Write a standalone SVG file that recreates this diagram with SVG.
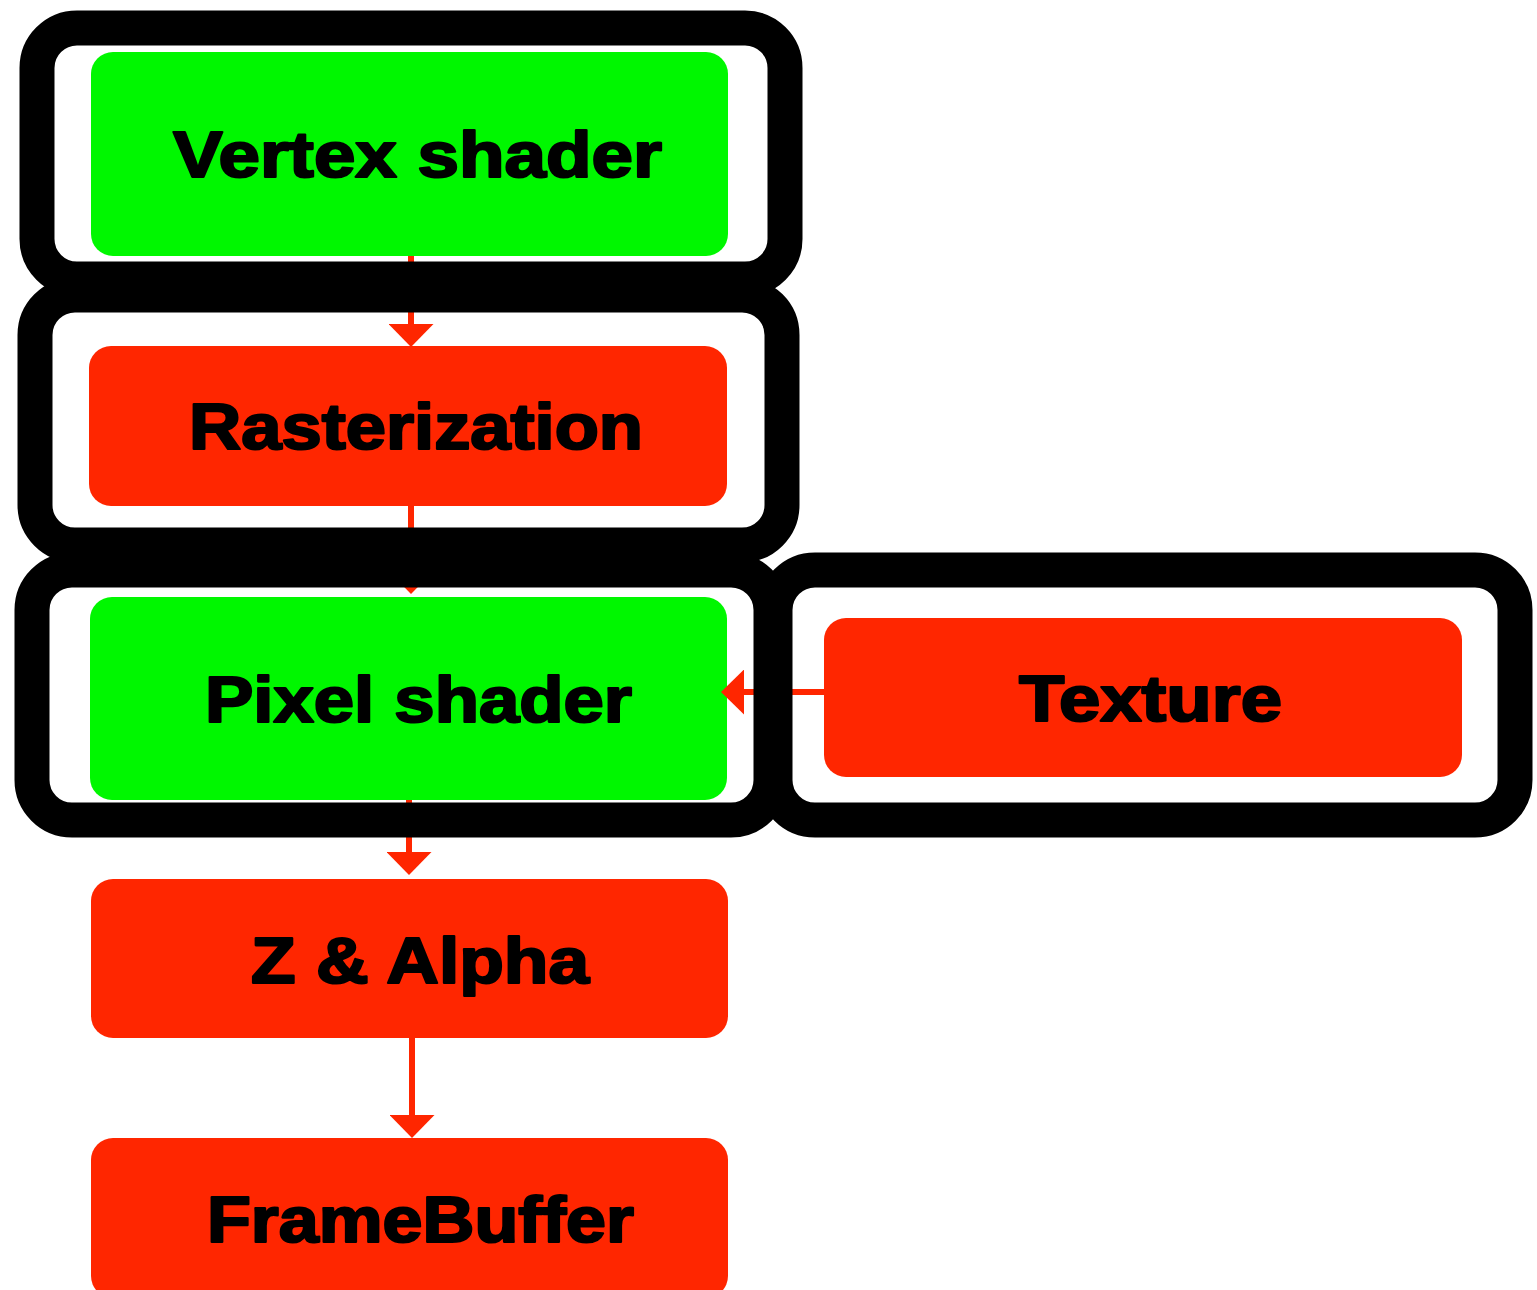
<svg xmlns="http://www.w3.org/2000/svg" width="1537" height="1290" viewBox="0 0 1537 1290">
  <defs>
    <style>
      .box { stroke: none; }
      .green { fill: #00f700; }
      .red { fill: #ff2600; }
      .label { font-family: "Liberation Sans", Arial, sans-serif; font-weight: bold; font-size: 64px; fill: #000; stroke: #000; stroke-width: 2.2; stroke-linejoin: round; text-anchor: start; }
      .link { stroke: #ff2600; stroke-width: 6; fill: none; }
      .frame { fill: none; stroke: #000; stroke-width: 35; }
    </style>
    <marker id="head" viewBox="0 0 23 45" refX="0" refY="22.5" markerWidth="23" markerHeight="45" markerUnits="userSpaceOnUse" orient="auto">
      <path d="M0,0 L23,22.5 L0,45 Z" fill="#ff2600"/>
    </marker>
  </defs>

  <rect width="1537" height="1290" fill="#fff"/>

  <!-- pipeline stages -->
  <g id="vertex-shader">
    <rect class="box green" x="91" y="52" width="637" height="204" rx="22"/>
    <text class="label" x="173" y="177" textLength="489" lengthAdjust="spacingAndGlyphs">Vertex shader</text>
  </g>
  <g id="rasterization">
    <rect class="box red" x="89" y="346" width="638" height="160" rx="22"/>
    <text class="label" x="189" y="449" textLength="454" lengthAdjust="spacingAndGlyphs">Rasterization</text>
  </g>
  <g id="pixel-shader">
    <rect class="box green" x="90" y="597" width="637" height="203" rx="22"/>
    <text class="label" x="205" y="722" textLength="427" lengthAdjust="spacingAndGlyphs">Pixel shader</text>
  </g>
  <g id="texture">
    <rect class="box red" x="824" y="618" width="638" height="159" rx="22"/>
    <text class="label" x="1019" y="721" textLength="263" lengthAdjust="spacingAndGlyphs">Texture</text>
  </g>
  <g id="z-alpha">
    <rect class="box red" x="91" y="879" width="637" height="159" rx="22"/>
    <text class="label" x="251" y="983" textLength="338" lengthAdjust="spacingAndGlyphs">Z &amp; Alpha</text>
  </g>
  <g id="framebuffer">
    <rect class="box red" x="91" y="1138" width="637" height="160" rx="22"/>
    <text class="label" x="207" y="1242" textLength="427" lengthAdjust="spacingAndGlyphs">FrameBuffer</text>
  </g>

  <!-- data flow -->
  <g id="connectors">
    <path class="link" d="M411,256 L411,324" marker-end="url(#head)"/>
    <path class="link" d="M411,506 L411,571" marker-end="url(#head)"/>
    <path class="link" d="M409,800 L409,852" marker-end="url(#head)"/>
    <path class="link" d="M412,1038 L412,1115" marker-end="url(#head)"/>
    <path class="link" d="M824,692 L744,692" marker-end="url(#head)"/>
  </g>

  <!-- programmable / fixed stage outlines -->
  <g id="frames">
    <rect class="frame" x="37" y="28" width="748" height="251" rx="40"/>
    <rect class="frame" x="35" y="295" width="747" height="250" rx="40"/>
    <rect class="frame" x="32" y="570" width="739" height="250" rx="40"/>
    <rect class="frame" x="775" y="570" width="740" height="250" rx="40"/>
  </g>
</svg>
